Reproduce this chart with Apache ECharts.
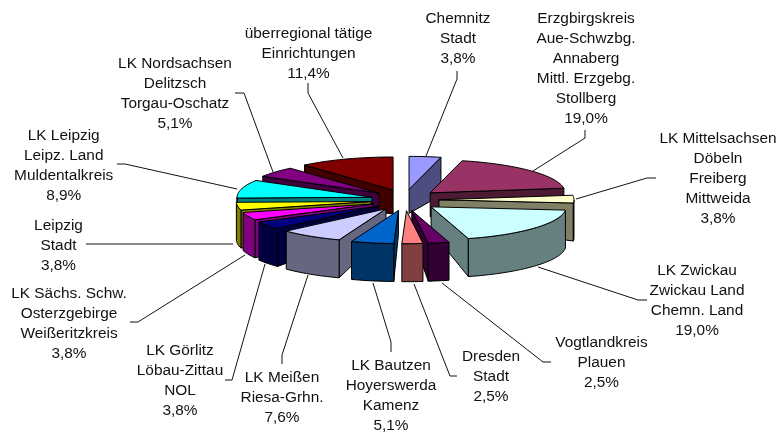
<!DOCTYPE html>
<html>
<head>
<meta charset="utf-8">
<style>html,body{margin:0;padding:0;background:#fff}#c{width:782px;height:432px}</style>
<script src="https://cdn.jsdelivr.net/npm/echarts@6/dist/echarts.min.js"></script>
</head>
<body>
<div id="c"></div>
<script>
const categories = [
  'Chemnitz\nStadt',
  'Erzgbirgskreis\nAue-Schwzbg.\nAnnaberg\nMittl. Erzgebg.\nStollberg',
  'LK Mittelsachsen\nDöbeln\nFreiberg\nMittweida',
  'LK Zwickau\nZwickau Land\nChemn. Land',
  'Vogtlandkreis\nPlauen',
  'Dresden\nStadt',
  'LK Bautzen\nHoyerswerda\nKamenz',
  'LK Meißen\nRiesa-Grhn.',
  'LK Görlitz\nLöbau-Zittau\nNOL',
  'LK Sächs. Schw.\nOsterzgebirge\nWeißeritzkreis',
  'Leipzig\nStadt',
  'LK Leipzig\nLeipz. Land\nMuldentalkreis',
  'LK Nordsachsen\nDelitzsch\nTorgau-Oschatz',
  'überregional tätige\nEinrichtungen'
];
const percents = [3.8, 19.0, 3.8, 19.0, 2.5, 2.5, 5.1, 7.6, 3.8, 3.8, 3.8, 8.9, 5.1, 11.4];
const topColors = ['#9999FF','#993366','#FFFFCC','#CCFFFF','#660066','#FF8080','#0066CC','#CCCCFF','#000080','#FF00FF','#FFFF00','#00FFFF','#800080','#800000'];
const wallColors = ['#4D4D80','#4D1A33','#808066','#668080','#330033','#804040','#003366','#666680','#000040','#800080','#808000','#008080','#400040','#400000'];

// label placement: centre x, centre y, leader polyline
const labelLayout = [
  {x:458,y:39,line:[[457,71],[457,79],[426,156]]},
  {x:586,y:69,line:[[585,130],[585,138],[533,171]]},
  {x:718,y:179,line:[[656,178],[647,178],[576,199]]},
  {x:697,y:301,line:[[647,300],[638,300],[538,267]]},
  {x:601.5,y:363,line:[[551,362],[543,362],[442,283]]},
  {x:491,y:377,line:[[457,376],[450,376],[414,284]]},
  {x:391,y:396,line:[[391,352],[391,342],[373,283]]},
  {x:282,y:398,line:[[282,364],[282,355],[308,275]]},
  {x:180,y:381,line:[[225,380],[232,380],[265,264]]},
  {x:69,y:324,line:[[130,322],[138,322],[245,255]]},
  {x:58.5,y:246,line:[[86,244],[233,244]]},
  {x:63.7,y:166,line:[[117,164],[125,164],[237,189]]},
  {x:175,y:94,line:[[235,93],[244,93],[273,172]]},
  {x:308.5,y:54,line:[[308,83],[308,93],[343,158]]}
];
const pie = {cx:405, cy:200, rx:135, ry:33, ex:34, ey:10.7, depth:38, apexDepth:24};

const total = percents.reduce((a,b)=>a+b,0);
let acc = 0;
const slices = percents.map((v,i)=>{
  const a0 = acc/total*360; acc += v; const a1 = acc/total*360;
  const mid = (a0+a1)/2*Math.PI/180;
  return {i, a0, a1,
    ax: pie.cx + Math.sin(mid)*pie.ex,
    ay: pie.cy - Math.cos(mid)*pie.ey};
});
const order = slices.slice().sort((p,q)=>p.ay-q.ay).map(s=>s.i);

function rimPoint(s, deg){
  const t = deg*Math.PI/180;
  return [s.ax + Math.sin(t)*pie.rx, s.ay - Math.cos(t)*pie.ry];
}
function down(p,d){ return [p[0],p[1]+d]; }
function arc(s, a, b){
  const pts=[]; const n=Math.max(1,Math.ceil(Math.abs(b-a)/2));
  for(let k=0;k<=n;k++) pts.push(rimPoint(s,a+(b-a)*k/n));
  return pts;
}
function poly(points, fill, z2){
  return {type:'polygon', z2, shape:{points},
    style:{fill, stroke:'#000', lineWidth:1, lineJoin:'round'}};
}
function renderSlice(params, api){
  const s = slices[api.value(0)];
  const top = topColors[s.i], wall = wallColors[s.i];
  const apex = [s.ax,s.ay], apexB = down(apex,pie.apexDepth);
  const children = [];
  const rank = params.dataIndex*10;
  if (s.a1 < 180) {            // closing radial wall faces the viewer
    const p = rimPoint(s,s.a1);
    children.push(poly([apex,p,down(p,pie.depth),apexB],wall,rank+1));
  }
  if (s.a0 >= 180) {           // opening radial wall faces the viewer
    const p = rimPoint(s,s.a0);
    children.push(poly([apex,p,down(p,pie.depth),apexB],wall,rank+1));
  }
  const w0 = Math.max(s.a0,90), w1 = Math.min(s.a1,270);
  if (w1 > w0) {               // outer curved wall
    const r = arc(s,w0,w1);
    children.push(poly(r.concat(r.map(p=>down(p,pie.depth)).reverse()),wall,rank+2));
  }
  children.push(poly([apex].concat(arc(s,s.a0,s.a1)),top,rank+3));
  return {type:'group',children};
}
function renderLabel(params, api){
  const i = api.value(0), l = labelLayout[i];
  const pct = percents[i].toFixed(1).replace('.',',')+'%';
  return {type:'group',children:[
    {type:'polyline',shape:{points:l.line},style:{fill:'none',stroke:'#111',lineWidth:1},z2:1000},
    {type:'text',z2:1001,x:l.x,y:l.y,style:{
      text:categories[i]+'\n'+pct,
      x:0,y:0,align:'center',verticalAlign:'middle',
      font:'15.4px "Liberation Sans", Arial, sans-serif',
      lineHeight:20,fill:'#111'}}
  ]};
}
const chart = echarts.init(document.getElementById('c'),null,{renderer:'canvas'});
chart.setOption({
  animation:false,
  backgroundColor:'#fff',
  xAxis:{show:false},yAxis:{show:false},
  series:[
    {type:'custom',coordinateSystem:'none',silent:true,renderItem:renderSlice,
      data:order.map(i=>[i,percents[i]])},
    {type:'custom',coordinateSystem:'none',silent:true,renderItem:renderLabel,z:5,
      data:percents.map((v,i)=>[i,v])}
  ]
});
</script>
</body>
</html>
